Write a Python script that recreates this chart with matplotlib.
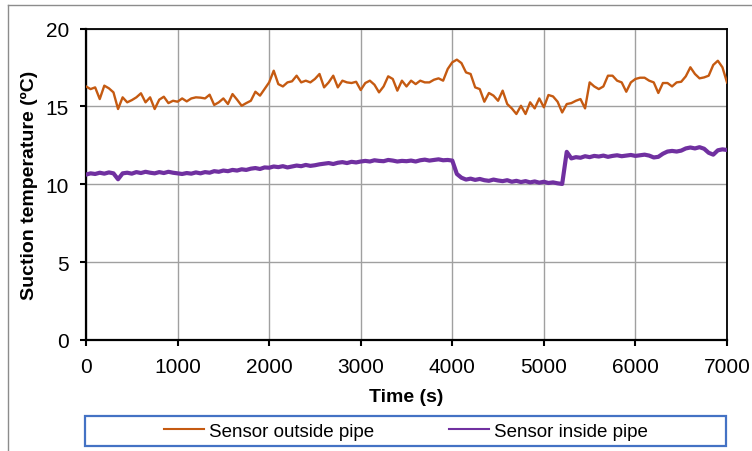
import numpy as np
import matplotlib
matplotlib.use("Agg")
import matplotlib.pyplot as plt
from matplotlib import font_manager
from matplotlib.lines import Line2D
from matplotlib.patches import Rectangle

# ---- data: suction temperature sampled every 50 s ----
time_s = np.arange(0, 7001, 50)

outside_pipe = [
    16.28, 16.11, 16.22, 15.47, 16.33, 16.16, 15.90, 14.83, 15.58, 15.26,
    15.40, 15.58, 15.84, 15.26, 15.58, 14.83, 15.43, 15.62, 15.21, 15.36,
    15.30, 15.51, 15.32, 15.51, 15.58, 15.56, 15.51, 15.75, 15.09, 15.26,
    15.51, 15.15, 15.79, 15.43, 15.04, 15.21, 15.36, 15.94, 15.69, 16.11,
    16.54, 17.29, 16.43, 16.28, 16.54, 16.61, 16.97, 16.54, 16.65, 16.54,
    16.76, 17.08, 16.22, 16.54, 16.97, 16.22, 16.65, 16.54, 16.50, 16.58,
    16.05, 16.50, 16.65, 16.39, 15.90, 16.28, 16.93, 16.76, 16.01, 16.65,
    16.28, 16.65, 16.43, 16.65, 16.54, 16.54, 16.71, 16.80, 16.65, 17.40,
    17.83, 18.00, 17.78, 17.18, 17.08, 16.22, 16.11, 15.30, 15.86, 15.69,
    15.36, 16.01, 15.15, 14.87, 14.51, 15.04, 14.51, 15.26, 14.87, 15.51,
    14.94, 15.73, 15.64, 15.30, 14.61, 15.15, 15.21, 15.36, 15.47, 14.87,
    16.54, 16.28, 16.11, 16.28, 16.97, 16.97, 16.65, 16.54, 15.94, 16.54,
    16.76, 16.84, 16.84, 16.65, 16.54, 15.86, 16.50, 16.50, 16.28, 16.54,
    16.58, 16.93, 17.51, 17.08, 16.80, 16.86, 16.97, 17.66, 17.93, 17.51,
    16.54,
]

inside_pipe = [
    10.62, 10.70, 10.66, 10.74, 10.68, 10.76, 10.70, 10.32, 10.70, 10.74,
    10.68, 10.78, 10.72, 10.80, 10.74, 10.70, 10.78, 10.72, 10.80, 10.74,
    10.70, 10.66, 10.72, 10.68, 10.76, 10.70, 10.78, 10.74, 10.84, 10.80,
    10.88, 10.84, 10.92, 10.88, 10.96, 10.92, 11.00, 11.04, 10.98, 11.08,
    11.06, 11.14, 11.10, 11.16, 11.08, 11.14, 11.20, 11.16, 11.24, 11.18,
    11.22, 11.28, 11.32, 11.36, 11.30, 11.38, 11.42, 11.36, 11.44, 11.40,
    11.46, 11.50, 11.46, 11.54, 11.50, 11.48, 11.56, 11.52, 11.46, 11.50,
    11.48, 11.52, 11.46, 11.54, 11.58, 11.52, 11.56, 11.60, 11.54, 11.56,
    11.52, 10.66, 10.42, 10.30, 10.36, 10.28, 10.34, 10.26, 10.22, 10.30,
    10.24, 10.20, 10.26, 10.16, 10.22, 10.14, 10.20, 10.12, 10.18, 10.10,
    10.16, 10.08, 10.12, 10.06, 10.02, 12.08, 11.66, 11.74, 11.70, 11.80,
    11.74, 11.82, 11.78, 11.84, 11.76, 11.82, 11.86, 11.80, 11.84, 11.88,
    11.82, 11.86, 11.90, 11.84, 11.72, 11.76, 11.96, 12.10, 12.14, 12.10,
    12.16, 12.30, 12.36, 12.30, 12.38, 12.28, 12.02, 11.90, 12.18, 12.24,
    12.20,
]

series_labels = ["Sensor outside pipe", "Sensor inside pipe"]
series_colors = ["#C55A11", "#7030A0"]
x_ticks = [0, 1000, 2000, 3000, 4000, 5000, 6000, 7000]
y_ticks = [0, 5, 10, 15, 20]

# ---- fonts ----
available = {f.name for f in font_manager.fontManager.ttflist}
base_font = "Liberation Sans" if "Liberation Sans" in available else "DejaVu Sans"
plt.rcParams["font.family"] = [base_font, "DejaVu Sans"]

W, H = 752, 452
fig = plt.figure(figsize=(W / 100, H / 100), dpi=100)
fig.patch.set_facecolor("white")

ax = fig.add_axes([86 / W, 1 - 341 / H, 641 / W, (341 - 29.5) / H])
ax.plot(time_s, outside_pipe, color=series_colors[0], lw=1.7,
        solid_joinstyle="round", zorder=3)
ax.plot(time_s, inside_pipe, color=series_colors[1], lw=3.0,
        solid_joinstyle="round", zorder=3)

ax.set_xlim(0, 7000)
ax.set_ylim(0, 20)
ax.set_xticks(x_ticks)
ax.set_yticks(y_ticks)
ax.grid(True, color="#a0a0a0", lw=1.0, zorder=0)
ax.set_axisbelow(True)

for side in ["left", "bottom"]:
    ax.spines[side].set_linewidth(1.6)
for side in ["top", "right"]:
    ax.spines[side].set_linewidth(1.3)
for s in ax.spines.values():
    s.set_color("black")

ax.tick_params(axis="both", direction="out", length=4.3, width=1.5,
               labelsize=15, colors="black")
ax.tick_params(axis="y", pad=8)
ax.tick_params(axis="x", pad=8)

ax.set_xlabel("Time (s)", fontsize=14, fontweight="bold")
ax.set_ylabel("Suction temperature (ºC)", fontsize=14, fontweight="bold")
ax.xaxis.set_label_coords(0.5, -0.154)
ax.yaxis.set_label_coords(-0.075, 0.5)

# ---- legend below the axes with a blue frame ----
handles = [Line2D([], [], color=c, lw=1.5) for c in series_colors]
fig.legend(handles, series_labels, loc="center",
           bbox_to_anchor=(406 / W, 1 - 432 / H), ncol=2, frameon=False,
           fontsize=13.5, handlelength=2.15, handletextpad=0.25,
           columnspacing=4.0)
fig.patches.append(Rectangle((85 / W, 1 - 447 / H), 641 / W, 30 / H,
                             transform=fig.transFigure, fill=False,
                             edgecolor="#4472C4", lw=1.6))

# ---- thin outer frame (left and top edges) ----
fig.add_artist(Line2D([8 / W, 8 / W], [0, 1 - 6 / H], transform=fig.transFigure,
                      color="#8c8c8c", lw=1.0))
fig.add_artist(Line2D([8 / W, 1], [1 - 6 / H, 1 - 6 / H], transform=fig.transFigure,
                      color="#8c8c8c", lw=1.0))

fig.savefig("out.png", dpi=100, facecolor="white")
